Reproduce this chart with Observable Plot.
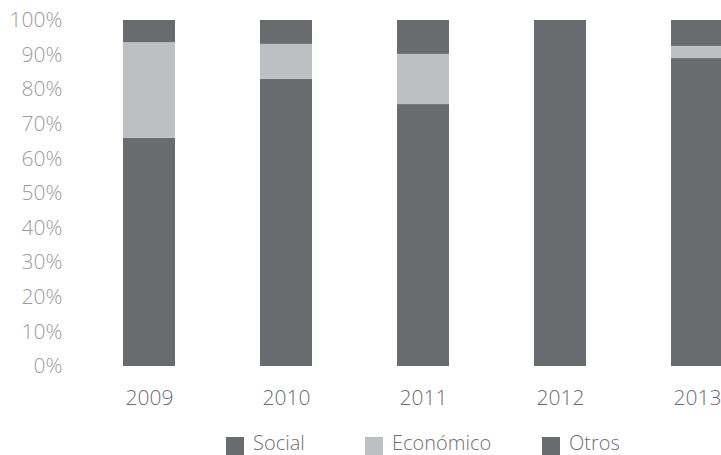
<!DOCTYPE html>
<html>
<head>
<meta charset="utf-8">
<script src="https://cdn.jsdelivr.net/npm/d3@7"></script>
<script src="https://cdn.jsdelivr.net/npm/@observablehq/plot@0.6"></script>
<style>
  html, body { margin: 0; padding: 0; background: #fff; width: 721px; height: 455px; overflow: hidden; }
  #wrap { position: relative; width: 721px; height: 455px; }
  #legend { position: absolute; left: 0; top: 437px; width: 721px; height: 18px; font-family: "Open Sans", sans-serif; font-weight: 300; font-size: 20px; color: #6f6f72; }
  .item { position: absolute; top: 0; height: 18px; line-height: 20px; white-space: nowrap; }
  .sw { position: absolute; left: 0; top: 0; width: 18px; height: 18px; }
  .lab { position: absolute; left: 27px; top: -4px; }
</style>
</head>
<body>
<div id="wrap"><div id="chart"></div><div id="legend"></div></div>
<script>
const years = ["2009", "2010", "2011", "2012", "2013"];
const series = ["Social", "Económico", "Otros"];
const social = [66.0, 83.0, 75.7, 100, 89.0];
const economico = [27.6, 10.1, 14.5, 0, 3.5];
const otros = [6.4, 6.9, 9.8, 0, 7.5];
const colors = ["#6a6b6f", "#bebfc2", "#6a6b6f"];
const yTicks = [0, 10, 20, 30, 40, 50, 60, 70, 80, 90, 100];

const values = [social, economico, otros];
const data = [];
series.forEach((s, si) => years.forEach((y, yi) => data.push({year: y, series: s, value: values[si][yi]})));

const chart = Plot.plot({
  width: 721,
  height: 430,
  marginTop: 20,
  marginBottom: 64,
  marginLeft: 80,
  style: {fontFamily: "'Open Sans', sans-serif", fontWeight: 300, background: "#fff", overflow: "hidden"},
  x: {domain: years, range: [80.25, 765.75], paddingInner: 0.62, paddingOuter: 0.31, label: null},
  y: {domain: [0, 100], label: null},
  color: {domain: series, range: colors},
  marks: [
    Plot.barY(data, Plot.stackY({order: series}, {x: "year", y: "value", fill: "series"})),
    Plot.axisY(yTicks, {tickSize: 0, tickPadding: 18, tickFormat: d => d + "%", fontSize: 21, fill: "#9b9b9d", label: null}),
    Plot.axisX({tickSize: 0, tickPadding: 24, fontSize: 21, fill: "#6d6d70", label: null})
  ]
});
document.getElementById("chart").appendChild(chart);

const legendX = [226, 365, 542];
const legend = document.getElementById("legend");
series.forEach((s, i) => {
  const it = document.createElement("div");
  it.className = "item";
  it.style.left = legendX[i] + "px";
  it.innerHTML = `<div class="sw" style="background:${colors[i]}"></div><div class="lab">${s}</div>`;
  legend.appendChild(it);
});
</script>
</body>
</html>
